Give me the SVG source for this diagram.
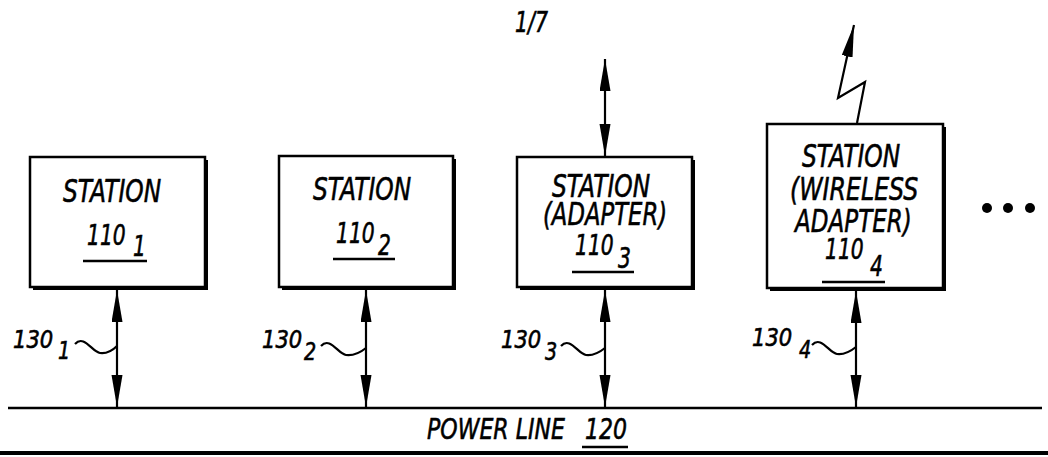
<svg xmlns="http://www.w3.org/2000/svg" width="1048" height="457" viewBox="0 0 1048 457">
<style>
text{font-family:"DejaVu Sans","Liberation Sans",sans-serif;font-style:italic;fill:#000;stroke:#000;stroke-width:0.6}
.st{font-size:32px}
.num{font-size:29px}
.lab{font-size:24px}
.pl{font-size:29px}
.box{fill:#fff;stroke:#000;stroke-width:2.5}
.sh{fill:#000}
.ul{stroke:#000;stroke-width:2.5}
.ln{stroke:#000;stroke-width:2.2;fill:none}
</style>
<defs>
<marker id="ah" markerUnits="userSpaceOnUse" markerWidth="34" markerHeight="12" refX="32" refY="5.5" orient="auto-start-reverse">
<path d="M0,0 L32,5.5 L0,11 z" fill="#000"/>
</marker>
</defs>
<text transform="translate(515 32) scale(.73 1)" style="font-size:28px">1/7</text>
<g id="station1">
<rect class="sh" x="33" y="160" width="175" height="130"/>
<rect class="box" x="30" y="157" width="175" height="130"/>
<text class="st" transform="translate(63 202) scale(.73 1)">STATION</text>
<text class="num" transform="translate(87 245) scale(.7 1)">110</text>
<text class="num" transform="translate(133 256) scale(.7 1)">1</text>
<line class="ul" x1="83" y1="261" x2="147" y2="261"/>
</g>
<g id="station2">
<rect class="sh" x="282" y="159" width="174" height="131"/>
<rect class="box" x="279" y="156" width="174" height="131"/>
<text class="st" transform="translate(313 200) scale(.73 1)">STATION</text>
<text class="num" transform="translate(336 243) scale(.7 1)">110</text>
<text class="num" transform="translate(378 255) scale(.7 1)">2</text>
<line class="ul" x1="333" y1="259" x2="395" y2="259"/>
</g>
<g id="station3">
<rect class="sh" x="520" y="160" width="175" height="130"/>
<rect class="box" x="517" y="157" width="175" height="130"/>
<text class="st" transform="translate(552 197) scale(.73 1)">STATION</text>
<text class="st" transform="translate(543 225) scale(.71 1)">(ADAPTER)</text>
<text class="num" transform="translate(575 255) scale(.7 1)">110</text>
<text class="num" transform="translate(618 268) scale(.7 1)">3</text>
<line class="ul" x1="572" y1="272" x2="634" y2="272"/>
</g>
<g id="station4">
<rect class="sh" x="770" y="127" width="176" height="164"/>
<rect class="box" x="767" y="124" width="176" height="164"/>
<text class="st" transform="translate(802 167) scale(.73 1)">STATION</text>
<text class="st" transform="translate(790 200) scale(.74 1)">(WIRELESS</text>
<text class="st" transform="translate(795 232) scale(.72 1)">ADAPTER)</text>
<text class="num" transform="translate(825 259) scale(.7 1)">110</text>
<text class="num" transform="translate(870 276) scale(.7 1)">4</text>
<line class="ul" x1="822" y1="282" x2="885" y2="282"/>
</g>
<g id="ellipsis">
<circle cx="987" cy="208" r="5"/>
<circle cx="1008" cy="208" r="5"/>
<circle cx="1030" cy="208" r="5"/>
</g>
<g id="powerline">
<line x1="8" y1="408" x2="1042" y2="408" stroke="#000" stroke-width="2.5"/>
<line x1="0" y1="453" x2="1048" y2="453" stroke="#000" stroke-width="4"/>
<text class="pl" transform="translate(427 439) scale(.76 1)">POWER LINE</text>
<text class="pl" transform="translate(585 439) scale(.76 1)">120</text>
<line class="ul" x1="582" y1="447" x2="628" y2="447"/>
</g>
<g id="connectors">
<line class="ln" x1="117" y1="290" x2="117" y2="407" marker-start="url(#ah)" marker-end="url(#ah)"/>
<line class="ln" x1="366" y1="290" x2="366" y2="407" marker-start="url(#ah)" marker-end="url(#ah)"/>
<line class="ln" x1="605" y1="290" x2="605" y2="407" marker-start="url(#ah)" marker-end="url(#ah)"/>
<line class="ln" x1="856" y1="291" x2="856" y2="407" marker-start="url(#ah)" marker-end="url(#ah)"/>
<line class="ln" x1="605" y1="59" x2="605" y2="156" marker-start="url(#ah)" marker-end="url(#ah)"/>
<polyline class="ln" points="857,123 865,82 838,98 854,25" marker-end="url(#ah)"/>
</g>
<g id="labels130">
<text class="lab" transform="translate(13 348) scale(.88 1)">130</text>
<text class="lab" transform="translate(58 359) scale(.8 1)">1</text>
<path class="ln" d="M75,344 C84,334 92,352 100,353 C108,354 113,350 117,346"/>
<text class="lab" transform="translate(262 348) scale(.88 1)">130</text>
<text class="lab" transform="translate(304 360) scale(.8 1)">2</text>
<path class="ln" d="M321,346 C330,336 338,354 346,355 C354,356 361,352 366,348"/>
<text class="lab" transform="translate(501 348) scale(.88 1)">130</text>
<text class="lab" transform="translate(545 360) scale(.8 1)">3</text>
<path class="ln" d="M561,346 C570,336 578,354 586,355 C594,356 600,352 605,348"/>
<text class="lab" transform="translate(752 346) scale(.88 1)">130</text>
<text class="lab" transform="translate(799 358) scale(.8 1)">4</text>
<path class="ln" d="M812,345 C821,335 829,353 837,354 C845,355 851,351 856,347"/>
</g>
</svg>
